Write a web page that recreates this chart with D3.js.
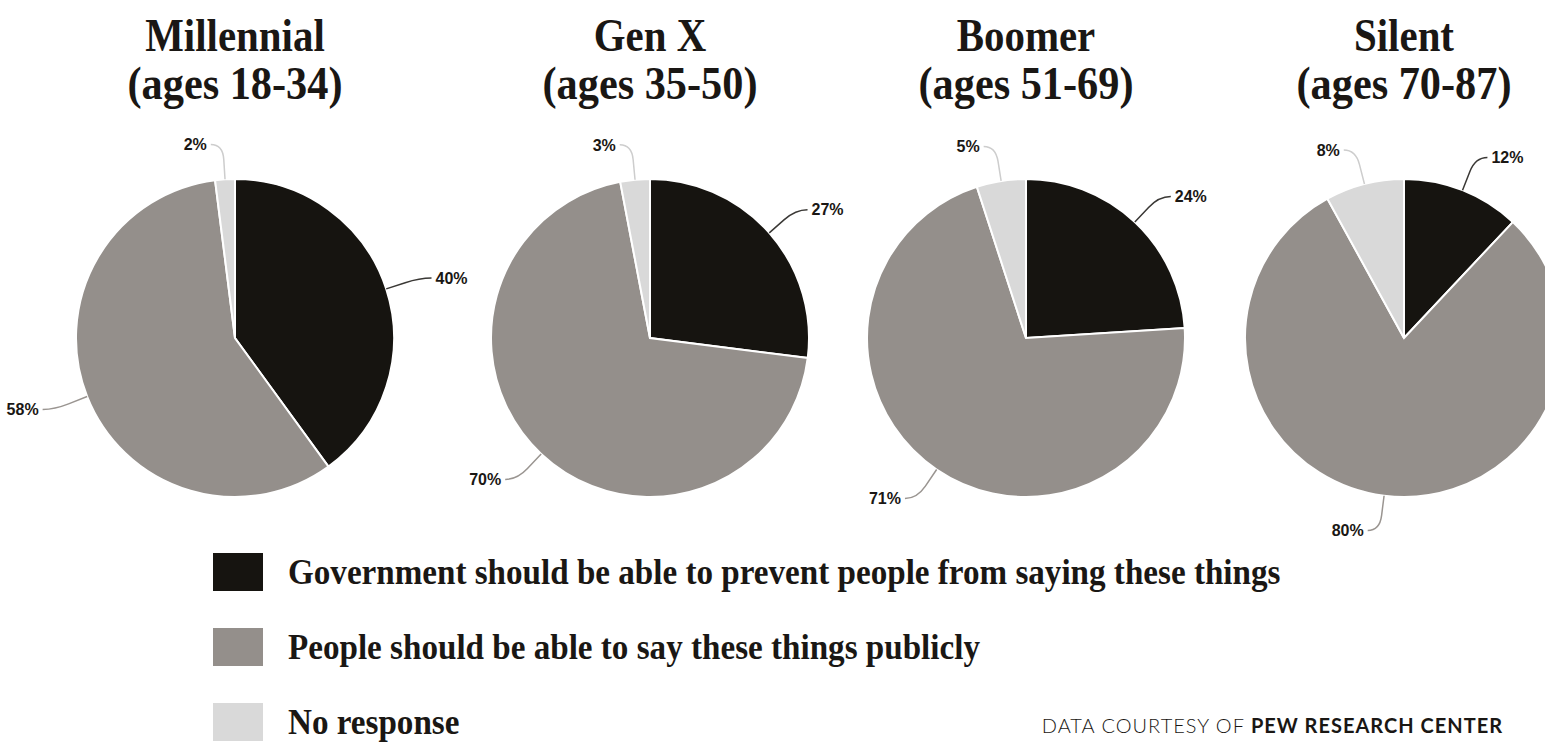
<!DOCTYPE html>
<html>
<head>
<meta charset="utf-8">
<script src="https://cdn.jsdelivr.net/npm/d3@7"></script>
<style>
  body { margin: 0; background: #fff; }
  svg { display: block; }
</style>
</head>
<body>
<div class="chart"></div>
<script>
// Generations and their answers (percent)
var generations = ["Millennial", "Gen X", "Boomer", "Silent"];
var ageRanges = ["(ages 18-34)", "(ages 35-50)", "(ages 51-69)", "(ages 70-87)"];
var answers = [
    "Government should be able to prevent people from saying these things",
    "People should be able to say these things publicly",
    "No response"
];
var govValues = [40, 27, 24, 12];
var peopleValues = [58, 70, 71, 80];
var noneValues = [2, 3, 5, 8];
var source = ["DATA COURTESY OF ", "PEW RESEARCH CENTER"];

// Size and layout
var width = 1545,
    height = 742,
    radius = 159,
    pieX = [235, 650, 1026, 1404],
    pieY = 338;

var colour = d3.scaleOrdinal()
    .domain(answers)
    .range(["#161410", "#948f8b", "#d9d9d9"]);

var lineColour = d3.scaleOrdinal()
    .domain(answers)
    .range(["#3a3835", "#9a9591", "#cdcdcd"]);

var svg = d3.select(".chart")
    .append("svg")
    .attr("width", width)
    .attr("height", height);

var pie = d3.pie()
    .sort(null)
    .value((d) => { return d.value; });

var arc = d3.arc()
    .innerRadius(0)
    .outerRadius(radius);

// narrow a serif text by a fixed proportion
function squeezeText(sel, k) {
    sel.each(function() {
        var w = this.getComputedTextLength();
        d3.select(this)
            .attr("textLength", w * k)
            .attr("lengthAdjust", "spacingAndGlyphs");
    });
}

generations.forEach((gen, i) => {
    var rows = [
        { key: answers[0], value: govValues[i] },
        { key: answers[1], value: peopleValues[i] },
        { key: answers[2], value: noneValues[i] }
    ];

    var g = svg.append("g")
        .attr("transform", "translate(" + pieX[i] + "," + pieY + ")");

    // Heading
    g.append("text")
        .text(gen)
        .attr("y", 51 - pieY)
        .attr("text-anchor", "middle")
        .attr("font-family", "Liberation Serif, serif")
        .attr("font-weight", "bold")
        .attr("font-size", 47)
        .attr("fill", "#1a1714")
        .call(squeezeText, 0.87);

    g.append("text")
        .text(ageRanges[i])
        .attr("y", 99 - pieY)
        .attr("text-anchor", "middle")
        .attr("font-family", "Liberation Serif, serif")
        .attr("font-weight", "bold")
        .attr("font-size", 47)
        .attr("fill", "#1a1714")
        .call(squeezeText, 0.9);

    var arcs = pie(rows);

    g.selectAll("path.slice")
        .data(arcs)
        .enter()
        .append("path")
        .attr("class", "slice")
        .attr("d", arc)
        .attr("fill", (d) => { return colour(d.data.key); })
        .attr("stroke", "#fff")
        .attr("stroke-width", 2);

    // Leader lines: go out from the slice middle, then bend sideways
    arcs.forEach((d) => {
        var a = (d.startAngle + d.endAngle) / 2;
        var dx = Math.sin(a), dy = -Math.cos(a);
        var side = dx >= 0 ? 1 : -1;
        var p0 = [dx * radius, dy * radius];
        var pa = [dx * (radius + 20), dy * (radius + 20)];
        var p1 = [dx * (radius + 35), dy * (radius + 35)];
        var p2 = [p1[0] + side * 12, p1[1]];

        var path = d3.path();
        path.moveTo(p0[0], p0[1]);
        path.lineTo(pa[0], pa[1]);
        path.quadraticCurveTo(p1[0], p1[1], p2[0], p2[1]);

        g.append("path")
            .attr("d", path.toString())
            .attr("fill", "none")
            .attr("stroke", lineColour(d.data.key))
            .attr("stroke-width", 1.5);

        g.append("text")
            .text(d.data.value + "%")
            .attr("x", p2[0] + side * 4)
            .attr("y", p2[1])
            .attr("dy", "0.36em")
            .attr("text-anchor", side > 0 ? "start" : "end")
            .attr("font-family", "Liberation Sans, Arial, sans-serif")
            .attr("font-weight", "bold")
            .attr("font-size", 16)
            .attr("fill", "#1a1714");
    });
});

// Legend
var legendY = d3.scalePoint()
    .domain(answers)
    .range([553, 703]);

var legend = svg.selectAll("g.legend")
    .data(answers)
    .enter()
    .append("g")
    .attr("class", "legend")
    .attr("transform", (d) => { return "translate(213," + legendY(d) + ")"; });

legend.append("rect")
    .attr("width", 50)
    .attr("height", 38)
    .attr("fill", (d) => { return colour(d); });

legend.append("text")
    .text((d) => { return d; })
    .attr("x", 75)
    .attr("y", 31)
    .attr("font-family", "Liberation Serif, serif")
    .attr("font-weight", "bold")
    .attr("font-size", 36)
    .attr("fill", "#1a1714")
    .call(squeezeText, 0.92);

// Source note
var note = svg.append("text")
    .attr("x", 1503)
    .attr("y", 733)
    .attr("text-anchor", "end")
    .attr("font-family", "Lato, sans-serif")
    .attr("font-size", 20)
    .attr("letter-spacing", 1)
    .attr("fill", "#1a1714");

note.append("tspan")
    .text(source[0])
    .attr("font-weight", 300);

note.append("tspan")
    .text(source[1])
    .attr("font-weight", "bold");
</script>
</body>
</html>
